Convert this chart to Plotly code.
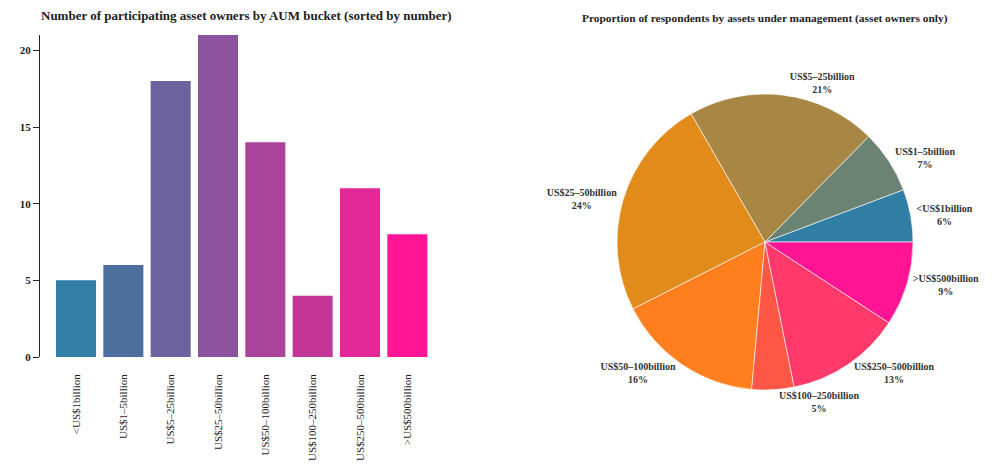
import plotly.graph_objects as go

categories = ["<US$1billion", "US$1–5billion", "US$5–25billion", "US$25–50billion",
              "US$50–100billion", "US$100–250billion", "US$250–500billion", ">US$500billion"]
counts = [5, 6, 18, 21, 14, 4, 11, 8]
y_ticks = [0, 5, 10, 15, 20]

bar_colors = ["#337fa6", "#4e6f9e", "#6c629f", "#8b529e", "#a9439b", "#c33596", "#e32698", "#ff1596"]
pie_colors = ["#317ea5", "#6b8373", "#a88745", "#e08b1a", "#ff7f1e", "#ff5745", "#ff3a6a", "#ff1493"]

FONT = "Liberation Serif"

# page has an 8px body margin; figure fills the rest of the 992x470 window
OFF = 8
W, H = 992 - OFF, 470 - OFF


def px(x):
    return (x - OFF) / W


def py(y):
    return 1 - (y - OFF) / H


# first slice starts at 3 o'clock and runs counterclockwise
# (plotly places the END of the first slice at `rotation` for counterclockwise pies)
first_share = counts[0] / sum(counts)
rotation = 90 - 360 * first_share

pie_cx, pie_cy, pie_r = 765, 242, 148

fig = go.Figure()
fig.add_trace(go.Bar(
    x=categories, y=counts, marker=dict(color=bar_colors, line=dict(width=0)),
    xaxis="x", yaxis="y", showlegend=False, hoverinfo="x+y",
))
fig.add_trace(go.Pie(
    labels=categories, values=counts, sort=False, direction="counterclockwise", rotation=rotation,
    marker=dict(colors=pie_colors, line=dict(color="#ffffff", width=0.6)),
    textposition="outside", texttemplate="%{label}<br>%{percent:.0%}",
    textfont=dict(family=FONT, size=10, color="#333333", weight="bold"),
    domain=dict(x=[px(pie_cx) - 0.2, px(pie_cx) + 0.2],
                y=[py(pie_cy) - pie_r / H, py(pie_cy) + pie_r / H]),
    showlegend=False,
))

fig.update_layout(
    width=W, height=H, margin=dict(l=0, r=0, t=0, b=0, autoexpand=False),
    paper_bgcolor="white", plot_bgcolor="white",
    font=dict(family=FONT, color="#222222"),
    bargap=0.154,
    xaxis=dict(domain=[px(40), px(431)], range=[-0.761, 7.5], tickangle=-90, automargin=False,
               showline=False, showgrid=False, ticks="", ticklabelstandoff=14,
               tickfont=dict(family=FONT, size=11, color="#222222"), fixedrange=True),
    yaxis=dict(domain=[py(357), py(35)], range=[0, 21], tickvals=y_ticks, automargin=False,
               showline=True, linecolor="#222222", linewidth=1, ticks="outside", ticklen=6,
               tickcolor="#222222", showgrid=False, zeroline=False,
               tickfont=dict(family=FONT, size=11, color="#222222", weight="bold")),
    annotations=[
        dict(text="<b>Number of participating asset owners by AUM bucket (sorted by number)</b>",
             x=px(246), y=py(16), xref="paper", yref="paper", xanchor="center", yanchor="middle",
             showarrow=False, font=dict(family=FONT, size=13, color="#222222")),
        dict(text="<b>Proportion of respondents by assets under management (asset owners only)</b>",
             x=px(765), y=py(18), xref="paper", yref="paper", xanchor="center", yanchor="middle",
             showarrow=False, font=dict(family=FONT, size=11.4, color="#222222")),
    ],
)

fig.write_html("out.html")
